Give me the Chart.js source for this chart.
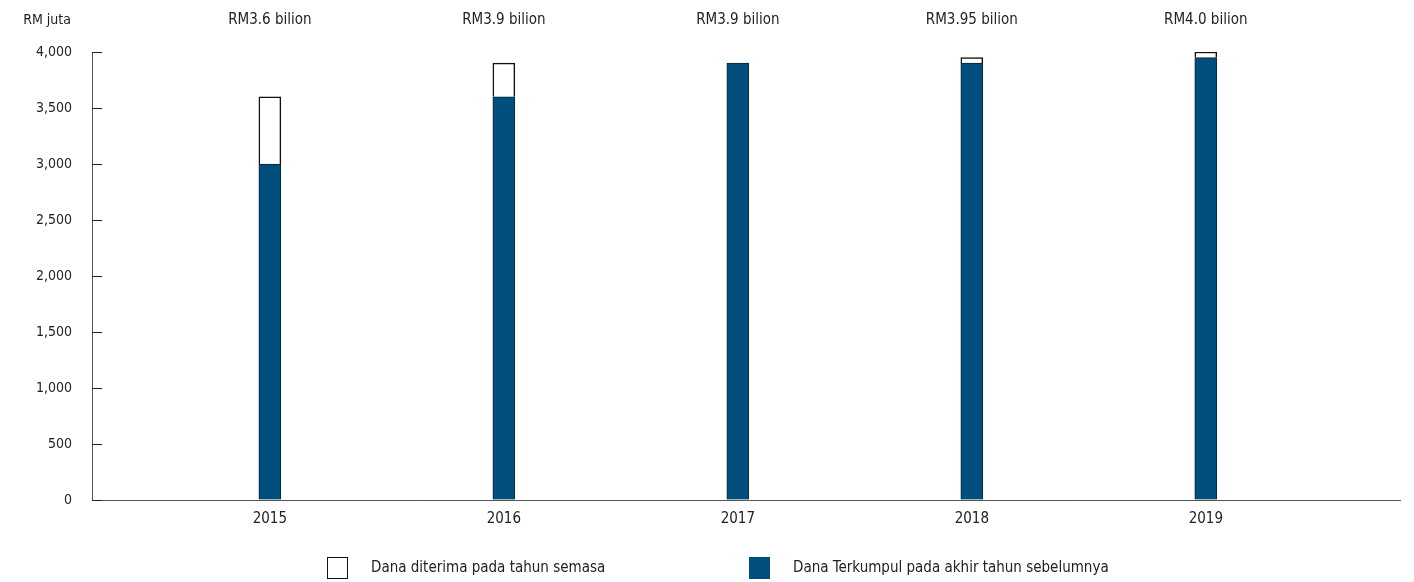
<!DOCTYPE html>
<html>
<head>
<meta charset="utf-8">
<script src="https://cdn.jsdelivr.net/npm/chart.js@4/dist/chart.umd.min.js"></script>
<style>
  html, body { margin: 0; padding: 0; background: #fff; }
  #wrap { width: 1414px; height: 582px; position: relative; }
</style>
</head>
<body>
<div id="wrap"><canvas id="c"></canvas></div>
<script>
const years = [2015, 2016, 2017, 2018, 2019];
const prevFunds = [3000, 3600, 3900, 3900, 3950];
const currentFunds = [600, 300, 0, 50, 50];
const totalLabels = ['RM3.6 bilion', 'RM3.9 bilion', 'RM3.9 bilion', 'RM3.95 bilion', 'RM4.0 bilion'];
const yTicks = [0, 500, 1000, 1500, 2000, 2500, 3000, 3500, 4000];
const unitLabel = 'RM juta';
const seriesNames = ['Dana Terkumpul pada akhir tahun sebelumnya', 'Dana diterima pada tahun semasa'];

const FONT = '"Liberation Sans Narrow", "DejaVu Sans Condensed", "Liberation Sans", sans-serif';
const NAVY = '#004e7c';

const extras = {
  id: 'extras',
  afterDraw(chart) {
    const ctx = chart.ctx;
    const y = chart.scales.y, x = chart.scales.x;
    ctx.save();
    ctx.strokeStyle = '#222';
    ctx.lineWidth = 1;
    yTicks.forEach(v => {
      const py = Math.round(y.getPixelForValue(v)) + 0.5;
      ctx.beginPath();
      ctx.moveTo(x.left, py);
      ctx.lineTo(x.left + 10, py);
      ctx.stroke();
    });
    ctx.fillStyle = '#222';
    ctx.font = '15px ' + FONT;
    ctx.textAlign = 'center';
    ctx.textBaseline = 'middle';
    years.forEach((yr, i) => {
      ctx.fillText(totalLabels[i], x.getPixelForValue(yr), 20);
    });
    ctx.font = '14px ' + FONT;
    ctx.textAlign = 'right';
    ctx.fillText(unitLabel, 71, 20);

    // legend (order as in reference: white series first)
    const items = [
      {ds: chart.data.datasets[1], x: 327},
      {ds: chart.data.datasets[0], x: 749}
    ];
    ctx.textAlign = 'left';
    items.forEach(it => {
      ctx.fillStyle = it.ds.backgroundColor;
      ctx.fillRect(it.x, 557, 20, 21);
      ctx.strokeStyle = it.ds === chart.data.datasets[1] ? '#111' : NAVY;
      ctx.lineWidth = 1;
      ctx.strokeRect(it.x + 0.5, 557.5, 20, 21);
      ctx.fillStyle = '#222';
      ctx.font = '15px ' + FONT;
      ctx.fillText(it.ds.label, it.x + 44, 568);
    });
    ctx.restore();
  }
};

new Chart(document.getElementById('c'), {
  type: 'bar',
  data: {
    datasets: [
      {
        label: seriesNames[0],
        data: years.map((yr, i) => ({x: yr, y: prevFunds[i]})),
        backgroundColor: NAVY,
        borderColor: '#0b2536',
        borderWidth: 1,
        barThickness: 22
      },
      {
        label: seriesNames[1],
        data: years.map((yr, i) => ({x: yr, y: currentFunds[i]})),
        backgroundColor: '#ffffff',
        borderColor: '#111',
        borderWidth: 1.5,
        barThickness: 22
      }
    ]
  },
  options: {
    responsive: true,
    maintainAspectRatio: false,
    animation: false,
    layout: { padding: { top: 52, right: 14, left: 16, bottom: 44 } },
    plugins: {
      tooltip: { enabled: false },
      legend: { display: false }
    },
    scales: {
      x: {
        type: 'linear',
        stacked: true,
        offset: false,
        min: 2014.24,
        max: 2019.83,
        afterBuildTicks(scale) { scale.ticks = years.map(v => ({value: v})); },
        ticks: { callback: v => String(v), color: '#222', font: { size: 15, family: FONT }, padding: 10 },
        grid: { display: false, drawTicks: false },
        border: { display: true, color: '#555', width: 1 }
      },
      y: {
        stacked: true,
        min: 0,
        max: 4000,
        afterBuildTicks(scale) { scale.ticks = yTicks.map(v => ({value: v})); },
        ticks: { color: '#222', font: { size: 14, family: FONT }, padding: 20,
                 callback: v => v.toLocaleString('en-US') },
        grid: { drawOnChartArea: false, drawTicks: false },
        border: { display: true, color: '#555', width: 1 }
      }
    }
  },
  plugins: [extras]
});
</script>
</body>
</html>
